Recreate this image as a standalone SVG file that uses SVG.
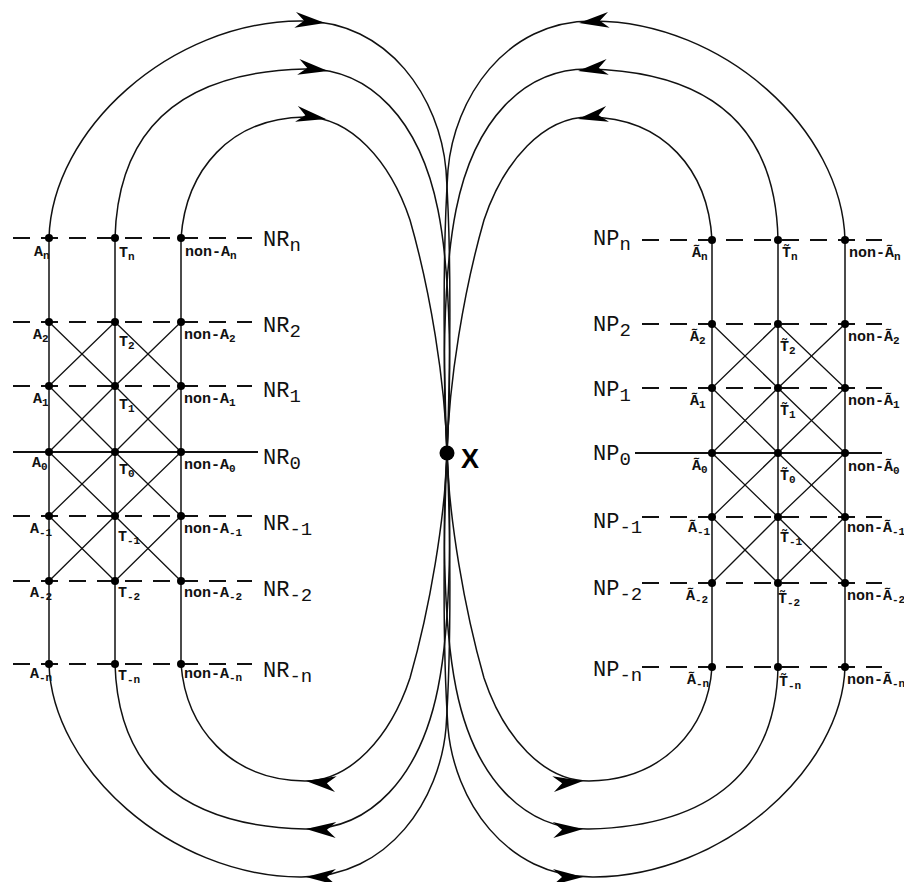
<svg xmlns="http://www.w3.org/2000/svg" width="904" height="882" viewBox="0 0 904 882">
<defs>
<path id="ah" d="M0,0 L-30,-8 L-21,0 L-30,8 Z"/>
</defs>
<style>
.ln{stroke:#111;stroke-width:1.5;fill:none}
.sl{stroke:#111;stroke-width:1.8;fill:none}
.ds{stroke:#111;stroke-width:1.8;fill:none;stroke-dasharray:17 11}
.dg{stroke:#111;stroke-width:1.3;fill:none}
.cv{stroke:#111;stroke-width:1.5;fill:none}
.dot{fill:#000}
.ah{fill:#000}
.lb{font-family:"Liberation Mono",monospace;font-size:15px;font-weight:bold;fill:#111}
.s{font-size:11px}
.big{font-family:"Liberation Mono",monospace;font-size:22px;fill:#111}
.bs{font-size:19px}
.xl{font-family:"Liberation Sans",Arial,sans-serif;font-size:27px;font-weight:bold;fill:#000}
</style>
<rect width="904" height="882" fill="#fff"/>

<g id="grid-left">
<path class="ds" d="M13,238H252M13,322H252M13,386H252M13,516H252M13,581H252M13,664H252"/>
<path class="sl" d="M13,452H258"/>
<path class="ln" d="M49,238V664M115,238V664M181,238V664"/>
<polyline class="dg" points="49,322 115,386 181,452 115,516 49,581"/>
<polyline class="dg" points="115,322 49,386 115,452 181,516 115,581"/>
<polyline class="dg" points="115,322 181,386 115,452 49,516 115,581"/>
<polyline class="dg" points="181,322 115,386 49,452 115,516 181,581"/>
</g>
<g id="grid-right">
<path class="ds" d="M642,240H882M642,324H882M642,388H882M642,517H882M642,583H882M642,667H882"/>
<path class="sl" d="M635,453H882"/>
<path class="ln" d="M712,240V667M778,240V667M845,240V667"/>
<polyline class="dg" points="712,324 778,388 845,453 778,517 712,583"/>
<polyline class="dg" points="778,324 712,388 778,453 845,517 778,583"/>
<polyline class="dg" points="778,324 845,388 778,453 712,517 778,583"/>
<polyline class="dg" points="845,324 778,388 712,453 778,517 845,583"/>
</g>

<g id="connectors">
<path class="cv" d="M49,238 C52,130 170,22 300,21 C390,20 440,100 446,170 C452,260 450,380 447,453"/>
<path class="cv" d="M115,238 C118,130 180,72 305,69 C370,68 420,120 438,210 C452,280 451,390 447,453"/>
<path class="cv" d="M181,238 C186,170 230,118 305,117 C350,117 390,160 410,220 C430,290 445,380 447,453"/>
<path class="cv" d="M845,240 C842,130 724,22 594,21 C504,20 454,100 448,170 C442,260 444,380 447,453"/>
<path class="cv" d="M778,240 C776,130 714,72 589,69 C524,68 474,120 456,210 C442,280 443,390 447,453"/>
<path class="cv" d="M712,240 C708,170 664,118 589,117 C544,117 504,160 484,220 C464,290 449,380 447,453"/>
<path class="cv" d="M49,664 C52,768 170,876 300,877 C390,878 440,798 446,728 C452,638 450,518 447,453"/>
<path class="cv" d="M115,664 C118,768 180,826 305,829 C370,830 420,778 438,688 C452,618 451,508 447,453"/>
<path class="cv" d="M181,664 C186,728 230,780 305,781 C350,781 390,738 410,678 C430,608 445,518 447,453"/>
<path class="cv" d="M845,667 C842,768 724,876 594,877 C504,878 454,798 448,728 C442,638 444,518 447,453"/>
<path class="cv" d="M778,667 C776,768 714,826 589,829 C524,830 474,778 456,688 C442,618 443,508 447,453"/>
<path class="cv" d="M712,667 C708,728 664,780 589,781 C544,781 504,738 484,678 C464,608 449,518 447,453"/>
<use href="#ah" class="ah" transform="translate(325,23) rotate(6)"/>
<use href="#ah" class="ah" transform="translate(328,71) rotate(8)"/>
<use href="#ah" class="ah" transform="translate(326,119) rotate(10)"/>
<use href="#ah" class="ah" transform="translate(579,23) rotate(174)"/>
<use href="#ah" class="ah" transform="translate(578,71) rotate(172)"/>
<use href="#ah" class="ah" transform="translate(578,119) rotate(170)"/>
<use href="#ah" class="ah" transform="translate(306,877) rotate(180)"/>
<use href="#ah" class="ah" transform="translate(306,829) rotate(182)"/>
<use href="#ah" class="ah" transform="translate(306,781) rotate(186)"/>
<use href="#ah" class="ah" transform="translate(583,877) rotate(0)"/>
<use href="#ah" class="ah" transform="translate(583,829) rotate(-2)"/>
<use href="#ah" class="ah" transform="translate(583,781) rotate(-6)"/>
</g>

<g id="row-labels">
<text class="big" x="263" y="246">NR<tspan class="bs" dy="5">n</tspan></text>
<text class="big" x="263" y="332">NR<tspan class="bs" dy="5">2</tspan></text>
<text class="big" x="263" y="397">NR<tspan class="bs" dy="5">1</tspan></text>
<text class="big" x="263" y="464">NR<tspan class="bs" dy="5">0</tspan></text>
<text class="big" x="263" y="530">NR<tspan class="bs" dy="5">-1</tspan></text>
<text class="big" x="263" y="596">NR<tspan class="bs" dy="5">-2</tspan></text>
<text class="big" x="263" y="677">NR<tspan class="bs" dy="5">-n</tspan></text>
<text class="big" x="593" y="245">NP<tspan class="bs" dy="5">n</tspan></text>
<text class="big" x="593" y="331">NP<tspan class="bs" dy="5">2</tspan></text>
<text class="big" x="593" y="396">NP<tspan class="bs" dy="5">1</tspan></text>
<text class="big" x="593" y="460">NP<tspan class="bs" dy="5">0</tspan></text>
<text class="big" x="593" y="528">NP<tspan class="bs" dy="5">-1</tspan></text>
<text class="big" x="593" y="595">NP<tspan class="bs" dy="5">-2</tspan></text>
<text class="big" x="593" y="676">NP<tspan class="bs" dy="5">-n</tspan></text>
</g>

<g id="node-X"><circle class="dot" cx="447" cy="453" r="7.5"/><text class="xl" x="461" y="468">X</text></g>

<g id="node-A-n-top"><circle class="dot" cx="49" cy="238" r="4"/><text class="lb" x="34" y="256">A<tspan class="s" dy="3">n</tspan></text></g>
<g id="node-T-n-top"><circle class="dot" cx="115" cy="238" r="4"/><text class="lb" x="119" y="257">T<tspan class="s" dy="3">n</tspan></text></g>
<g id="node-nonA-n-top"><circle class="dot" cx="181" cy="238" r="4"/><text class="lb" x="185" y="256">non-A<tspan class="s" dy="3">n</tspan></text></g>
<g id="node-A2"><circle class="dot" cx="49" cy="322" r="4"/><text class="lb" x="33" y="339">A<tspan class="s" dy="3">2</tspan></text></g>
<g id="node-T2"><circle class="dot" cx="115" cy="322" r="4"/><text class="lb" x="119" y="346">T<tspan class="s" dy="3">2</tspan></text></g>
<g id="node-nonA2"><circle class="dot" cx="181" cy="322" r="4"/><text class="lb" x="184" y="339">non-A<tspan class="s" dy="3">2</tspan></text></g>
<g id="node-A1"><circle class="dot" cx="49" cy="386" r="4"/><text class="lb" x="33" y="403">A<tspan class="s" dy="3">1</tspan></text></g>
<g id="node-T1"><circle class="dot" cx="115" cy="386" r="4"/><text class="lb" x="119" y="409">T<tspan class="s" dy="3">1</tspan></text></g>
<g id="node-nonA1"><circle class="dot" cx="181" cy="386" r="4"/><text class="lb" x="184" y="403">non-A<tspan class="s" dy="3">1</tspan></text></g>
<g id="node-A0"><circle class="dot" cx="49" cy="452" r="4"/><text class="lb" x="32" y="467">A<tspan class="s" dy="3">0</tspan></text></g>
<g id="node-T0"><circle class="dot" cx="115" cy="452" r="4"/><text class="lb" x="119" y="474">T<tspan class="s" dy="3">0</tspan></text></g>
<g id="node-nonA0"><circle class="dot" cx="181" cy="452" r="4"/><text class="lb" x="184" y="469">non-A<tspan class="s" dy="3">0</tspan></text></g>
<g id="node-A-1"><circle class="dot" cx="49" cy="516" r="4"/><text class="lb" x="30" y="533">A<tspan class="s" dy="3">-1</tspan></text></g>
<g id="node-T-1"><circle class="dot" cx="115" cy="516" r="4"/><text class="lb" x="118" y="541">T<tspan class="s" dy="3">-1</tspan></text></g>
<g id="node-nonA-1"><circle class="dot" cx="181" cy="516" r="4"/><text class="lb" x="184" y="533">non-A<tspan class="s" dy="3">-1</tspan></text></g>
<g id="node-A-2"><circle class="dot" cx="49" cy="581" r="4"/><text class="lb" x="30" y="597">A<tspan class="s" dy="3">-2</tspan></text></g>
<g id="node-T-2"><circle class="dot" cx="115" cy="581" r="4"/><text class="lb" x="118" y="597">T<tspan class="s" dy="3">-2</tspan></text></g>
<g id="node-nonA-2"><circle class="dot" cx="181" cy="581" r="4"/><text class="lb" x="184" y="597">non-A<tspan class="s" dy="3">-2</tspan></text></g>
<g id="node-A-n"><circle class="dot" cx="49" cy="664" r="4"/><text class="lb" x="30" y="678">A<tspan class="s" dy="3">-n</tspan></text></g>
<g id="node-T-n"><circle class="dot" cx="115" cy="664" r="4"/><text class="lb" x="118" y="680">T<tspan class="s" dy="3">-n</tspan></text></g>
<g id="node-nonA-n"><circle class="dot" cx="181" cy="664" r="4"/><text class="lb" x="184" y="678">non-A<tspan class="s" dy="3">-n</tspan></text></g>

<g id="node-At-n-top"><circle class="dot" cx="712" cy="240" r="4"/><text class="lb" x="692" y="257">Ã<tspan class="s" dy="3">n</tspan></text></g>
<g id="node-Tt-n-top"><circle class="dot" cx="778" cy="240" r="4"/><text class="lb" x="782" y="257">T̃<tspan class="s" dy="3">n</tspan></text></g>
<g id="node-nonAt-n-top"><circle class="dot" cx="845" cy="240" r="4"/><text class="lb" x="849" y="257">non-Ã<tspan class="s" dy="3">n</tspan></text></g>
<g id="node-At2"><circle class="dot" cx="712" cy="324" r="4"/><text class="lb" x="690" y="341">Ã<tspan class="s" dy="3">2</tspan></text></g>
<g id="node-Tt2"><circle class="dot" cx="778" cy="324" r="4"/><text class="lb" x="780" y="351">T̃<tspan class="s" dy="3">2</tspan></text></g>
<g id="node-nonAt2"><circle class="dot" cx="845" cy="324" r="4"/><text class="lb" x="848" y="341">non-Ã<tspan class="s" dy="3">2</tspan></text></g>
<g id="node-At1"><circle class="dot" cx="712" cy="388" r="4"/><text class="lb" x="690" y="405">Ã<tspan class="s" dy="3">1</tspan></text></g>
<g id="node-Tt1"><circle class="dot" cx="778" cy="388" r="4"/><text class="lb" x="780" y="415">T̃<tspan class="s" dy="3">1</tspan></text></g>
<g id="node-nonAt1"><circle class="dot" cx="845" cy="388" r="4"/><text class="lb" x="848" y="405">non-Ã<tspan class="s" dy="3">1</tspan></text></g>
<g id="node-At0"><circle class="dot" cx="712" cy="453" r="4"/><text class="lb" x="692" y="470">Ã<tspan class="s" dy="3">0</tspan></text></g>
<g id="node-Tt0"><circle class="dot" cx="778" cy="453" r="4"/><text class="lb" x="780" y="480">T̃<tspan class="s" dy="3">0</tspan></text></g>
<g id="node-nonAt0"><circle class="dot" cx="845" cy="453" r="4"/><text class="lb" x="848" y="471">non-Ã<tspan class="s" dy="3">0</tspan></text></g>
<g id="node-At-1"><circle class="dot" cx="712" cy="517" r="4"/><text class="lb" x="688" y="532">Ã<tspan class="s" dy="3">-1</tspan></text></g>
<g id="node-Tt-1"><circle class="dot" cx="778" cy="517" r="4"/><text class="lb" x="780" y="542">T̃<tspan class="s" dy="3">-1</tspan></text></g>
<g id="node-nonAt-1"><circle class="dot" cx="845" cy="517" r="4"/><text class="lb" x="847" y="532">non-Ã<tspan class="s" dy="3">-1</tspan></text></g>
<g id="node-At-2"><circle class="dot" cx="712" cy="583" r="4"/><text class="lb" x="686" y="600">Ã<tspan class="s" dy="3">-2</tspan></text></g>
<g id="node-Tt-2"><circle class="dot" cx="778" cy="583" r="4"/><text class="lb" x="778" y="603">T̃<tspan class="s" dy="3">-2</tspan></text></g>
<g id="node-nonAt-2"><circle class="dot" cx="845" cy="583" r="4"/><text class="lb" x="847" y="600">non-Ã<tspan class="s" dy="3">-2</tspan></text></g>
<g id="node-At-n"><circle class="dot" cx="712" cy="667" r="4"/><text class="lb" x="687" y="684">Ã<tspan class="s" dy="3">-n</tspan></text></g>
<g id="node-Tt-n"><circle class="dot" cx="778" cy="667" r="4"/><text class="lb" x="779" y="686">T̃<tspan class="s" dy="3">-n</tspan></text></g>
<g id="node-nonAt-n"><circle class="dot" cx="845" cy="667" r="4"/><text class="lb" x="847" y="684">non-Ã<tspan class="s" dy="3">-n</tspan></text></g>
</svg>
